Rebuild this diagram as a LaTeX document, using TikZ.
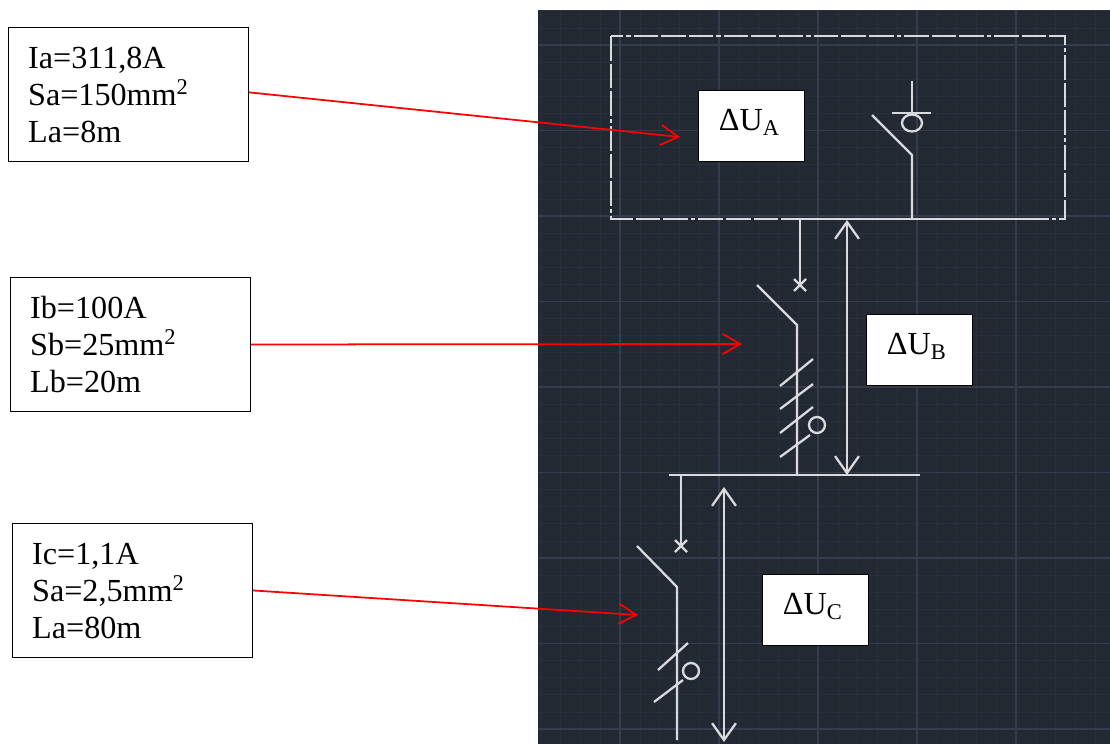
\documentclass[tikz,border=0pt]{standalone}
\usepackage{fontspec}
\setmainfont{Liberation Serif}
\usepackage{xcolor}
\usetikzlibrary{arrows.meta}
\definecolor{panelbg}{HTML}{232933}
\definecolor{gridminor}{HTML}{2A303B}
\definecolor{gridmajor}{HTML}{363B4D}
\definecolor{cadline}{HTML}{DADADE}
\tikzset{
  infobox/.style={draw=black,line width=0.6pt,fill=white,anchor=north west,align=left,minimum width=136.6pt,minimum height=76.2pt,
    inner xsep=11.2pt,inner ysep=0pt,text height=23.3pt,text depth=52.9pt,text width=114.2pt,font=\fontsize{18.3}{21}\selectfont},
  dubox/.style={draw=black,line width=0.8pt,fill=white,anchor=north west,align=left,minimum width=60.2pt,minimum height=40.4pt,
    inner xsep=11.5pt,inner ysep=0pt,text height=22.8pt,text depth=17.6pt,text width=37.2pt,font=\fontsize{18.3}{21}\selectfont},
  cad/.style={draw=cadline,line width=1.3pt},
  cadarrow/.style={cad,{Straight Barb[length=9.6pt,width=13.6pt]}-{Straight Barb[length=9.6pt,width=13.6pt]}},
  redarrow/.style={draw=red,line width=1pt,-{Straight Barb[length=10pt,width=11.5pt]}},
  xmark/.pic={\draw[cad] (-6,-6) -- (6,6) (-6,6) -- (6,-6);},
}
\begin{document}
\begin{tikzpicture}[x=0.02cm,y=-0.02cm]
    \useasboundingbox (0,0) rectangle (1110,744);
    \fill[panelbg] (538,10) rectangle (1110,744);
    \foreach \n in {0,...,28} \draw[gridminor,line width=0.4pt] ({541+19.8*\n},10) -- ++(0,734);
    \foreach \n in {0,...,42} \draw[gridminor,line width=0.4pt] (538,{10.8+17.1*\n}) -- (1110,{10.8+17.1*\n});
    \foreach \n in {0,...,4} \draw[gridmajor,line width=0.6pt] ({620+99*\n},10) -- ++(0,734);
    \foreach \n in {0,...,8} \draw[gridmajor,line width=0.6pt] (538,{45+85.5*\n}) -- (1110,{45+85.5*\n});

    \draw[cad,dash pattern=on 14pt off 1.7pt on 14pt off 1.7pt on 14pt off 1.7pt on 2.5pt off 1.7pt] (611,36) rectangle (1065,219);
    \draw[cad] (783,219) -- (1040,219);

    \draw[cad] (912,219) -- (912,155) -- (872,115);
    \draw[cad] (912,81) -- (912,113);
    \draw[cad] (892,113) -- (931,113);
    \draw[cad] (912,123) ellipse (10 and 8.5);

    \draw[cad] (800,219) -- (800,285);
    \pic at (800,285) {xmark};
    \draw[cadarrow] (847,220) -- (847,475);

    \draw[cad] (669,475) -- (920,475);
    \draw[cad] (797,475) -- (797,325) -- (757,285);
    \foreach \ya/\yb in {386/359,409/384,433/407} \draw[cad] (780,\ya) -- (813,\yb);
    \draw[cad] (780,457) -- (810,435);
    \draw[cad] (817,425) circle (8);

    \draw[cad] (681,475) -- (681,546);
    \pic at (681,546) {xmark};
    \draw[cadarrow] (724,487) -- (724,742);

    \draw[cad] (677,740) -- (677,587) -- (637,546);
    \draw[cad] (658,670) -- (688,643);
    \draw[cad] (654,702) -- (683,680);
    \draw[cad] (691,671) circle (8);

    \node[dubox] (dua) at (698,90) {ΔU\textsubscript{A}};
    \node[dubox] (dub) at (866,314) {ΔU\textsubscript{B}};
    \node[dubox] (duc) at (762,574) {ΔU\textsubscript{C}};

    \node[infobox] (infoa) at (8,27) {Ia=311,8A\\Sa=150mm\textsuperscript{2}\\La=8m};
    \node[infobox] (infob) at (10,277) {Ib=100A\\Sb=25mm\textsuperscript{2}\\Lb=20m};
    \node[infobox] (infoc) at (12,523) {Ic=1,1A\\Sa=2,5mm\textsuperscript{2}\\La=80m};

    \coordinate (tipa) at (680,137);
    \coordinate (tipb) at (742,344);
    \coordinate (tipc) at (638,615);
    \draw[redarrow] (infoa.1.5) -- (tipa);
    \draw[redarrow] (infob.east) -- (tipb);
    \draw[redarrow] (infoc.east) -- (tipc);
\end{tikzpicture}
\end{document}
